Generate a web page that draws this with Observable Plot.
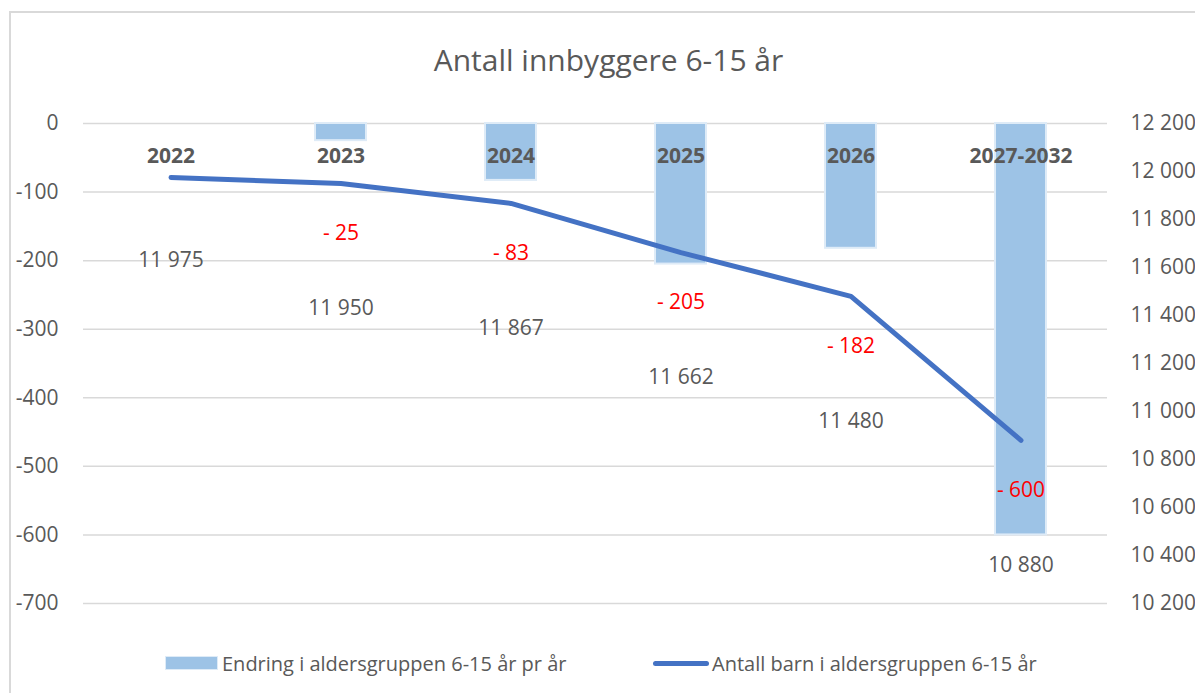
<!DOCTYPE html>
<html>
<head>
<meta charset="utf-8">
<script src="https://cdn.jsdelivr.net/npm/d3@7"></script>
<script src="https://cdn.jsdelivr.net/npm/@observablehq/plot@0.6"></script>
<style>
  html, body { margin: 0; padding: 0; background: #fff; }
  body { position: relative; width: 1195px; height: 693px; overflow: hidden; font-family: "Open Sans", sans-serif; }
  #frame { position: absolute; left: 9px; top: 11px; width: 1400px; height: 900px; border-top: 2px solid #d9d9d9; border-left: 2px solid #d9d9d9; }
  #title { position: absolute; left: 10px; width: 1197px; top: 38px; text-align: center; font-size: 30px; color: #595959; line-height: 44px; }
  #chart { position: absolute; left: 0; top: 100px; }
  #legend { position: absolute; top: 648px; left: 0; width: 1195px; height: 30px; font-size: 20px; color: #595959; }
  .lg { position: absolute; top: 0; display: flex; align-items: center; height: 30px; white-space: nowrap; }
  .sw-bar { width: 51px; height: 12px; background: #9DC3E6; border: 1px solid #DEEBF7; margin-right: 4px; }
  .sw-line { width: 56px; height: 5px; background: #4472C4; border-radius: 3px; margin-right: 3px; }
</style>
</head>
<body>
<div id="frame"></div>
<div id="title">Antall innbyggere 6-15 år</div>
<div id="chart"></div>
<div id="legend">
  <div class="lg" style="left:165px"><div class="sw-bar"></div><span>Endring i aldersgruppen 6-15 år pr år</span></div>
  <div class="lg" style="left:653px"><div class="sw-line"></div><span>Antall barn i aldersgruppen 6-15 år</span></div>
</div>
<script>
const categories = ["2022", "2023", "2024", "2025", "2026", "2027-2032"];
const changes = [null, -25, -83, -205, -182, -600];
const population = [11975, 11950, 11867, 11662, 11480, 10880];
const leftTicks = [0, -100, -200, -300, -400, -500, -600, -700];
const rightTicks = [12200, 12000, 11800, 11600, 11400, 11200, 11000, 10800, 10600, 10400, 10200];

// secondary axis mapping (population -> left-axis units)
const rightMin = 10200, rightMax = 12200, leftMin = -700, leftMax = 0;
const toLeft = p => leftMin + (p - rightMin) / (rightMax - rightMin) * (leftMax - leftMin);
const fromLeft = v => Math.round(rightMin + (v - leftMin) / (leftMax - leftMin) * (rightMax - rightMin));
const fmt = n => String(n).replace(/\B(?=(\d{3})+(?!\d))/g, "\u00a0");

const rows = categories.map((c, i) => ({cat: c, change: changes[i], pop: population[i], first: i === 0}));

const grey = "#595959";
const chart = Plot.plot({
  width: 1195,
  height: 540,
  marginLeft: 83,
  marginRight: 88,
  marginTop: 23,
  marginBottom: 37,
  style: {fontFamily: "'Open Sans', sans-serif", fontSize: "21px", color: grey, background: "transparent", overflow: "visible"},
  x: {domain: categories, paddingInner: 0.7, paddingOuter: 0.35, axis: null},
  y: {domain: [-700, 0], axis: null},
  marks: [
    Plot.ruleY(leftTicks, {stroke: "#d9d9d9", strokeWidth: 1.5}),
    Plot.axisY(leftTicks, {anchor: "left", label: null, tickSize: 0, tickPadding: 25, fill: grey, fontSize: 21, tickFormat: d => String(d)}),
    Plot.axisY(rightTicks.map(toLeft), {anchor: "right", label: null, tickSize: 0, tickPadding: 23, fill: grey, fontSize: 21, tickFormat: v => fmt(fromLeft(v))}),
    Plot.barY(rows.filter(d => d.change != null), {x: "cat", y: "change", fill: "#9DC3E6", stroke: "#DEEBF7", strokeWidth: 2}),
    Plot.text(rows, {x: "cat", y: () => 0, dy: 33, text: "cat", fill: grey, fontWeight: "bold", fontSize: 21}),
    Plot.line(rows, {x: "cat", y: d => toLeft(d.pop), stroke: "#4472C4", strokeWidth: 5, strokeLinecap: "round", strokeLinejoin: "round"}),
    Plot.text(rows.filter(d => d.change != null), {x: "cat", y: d => toLeft(d.pop), dy: 50, text: d => "- " + Math.abs(d.change), fill: "#FF0000", fontSize: 21}),
    Plot.text(rows.filter(d => d.first), {x: "cat", y: d => toLeft(d.pop), dy: 83, text: d => fmt(d.pop), fill: grey, fontSize: 21}),
    Plot.text(rows.filter(d => !d.first), {x: "cat", y: d => toLeft(d.pop), dy: 125, text: d => fmt(d.pop), fill: grey, fontSize: 21})
  ]
});
document.getElementById("chart").appendChild(chart);
</script>
</body>
</html>
